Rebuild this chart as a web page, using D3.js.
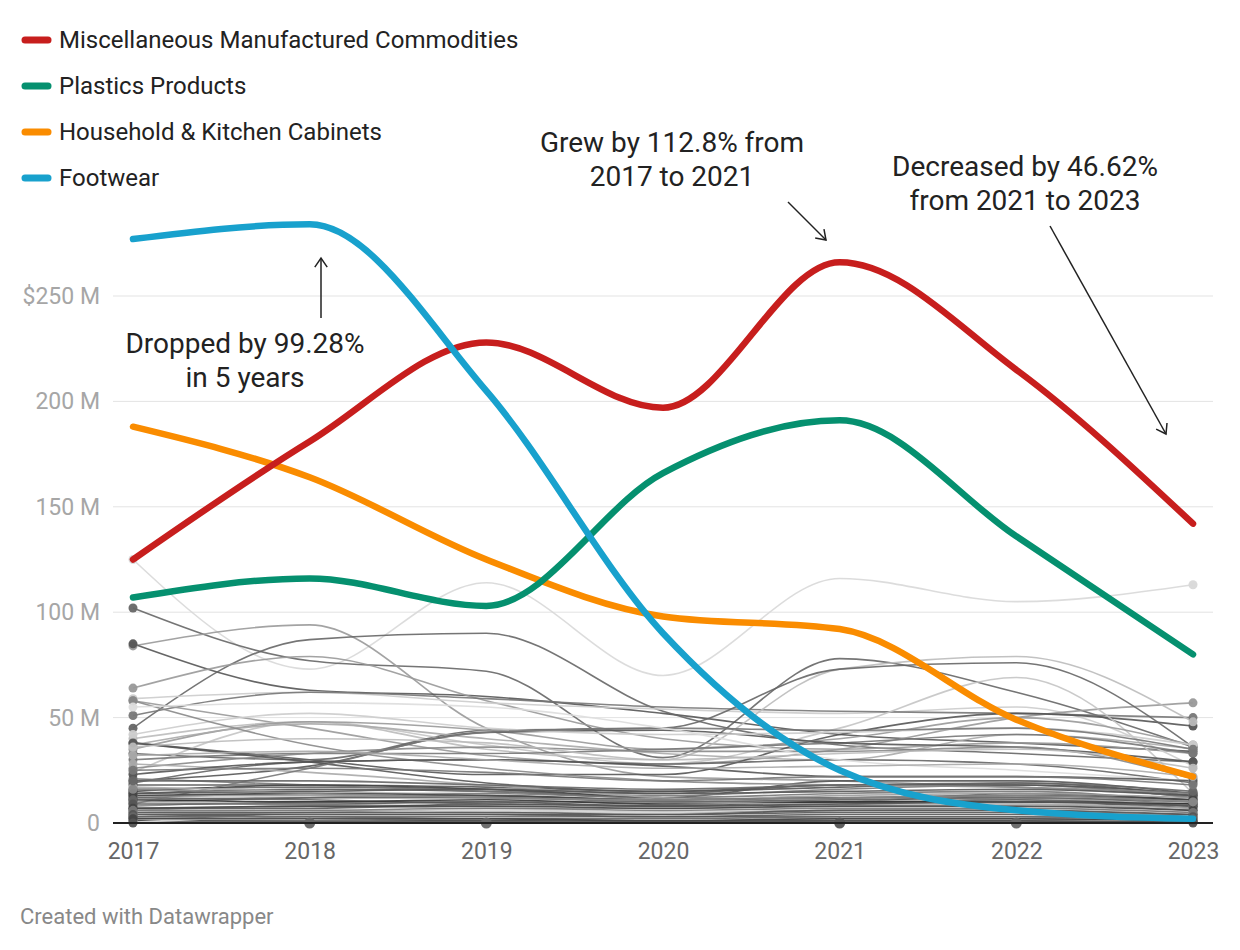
<!DOCTYPE html>
<html>
<head>
<meta charset="utf-8">
<script src="https://cdn.jsdelivr.net/npm/d3@7"></script>
<style>
  html, body { margin: 0; padding: 0; background: #fff; }
  svg { display: block; font-family: Roboto, "Noto Sans", sans-serif; }
</style>
</head>
<body>
<svg id="chart" width="1240" height="950"></svg>
<script>
// ---------- DATA ----------
const years = [2017, 2018, 2019, 2020, 2021, 2022, 2023];

const mainNames = [
  "Miscellaneous Manufactured Commodities",
  "Plastics Products",
  "Household & Kitchen Cabinets",
  "Footwear"
];
const miscValues      = [125, 181, 228, 197, 266, 215, 142];
const plasticsValues  = [107, 116, 103, 166, 191, 136, 80];
const householdValues = [188, 164, 125, 98, 92, 49, 22];
const footwearValues  = [277, 284, 205, 90, 25, 6, 2];

const yTickValues = [0, 50, 100, 150, 200, 250];
const yTickLabels = ["0", "50 M", "100 M", "150 M", "200 M", "$250 M"];

// other commodities (values in $M, 2017..2023; null = no data)
const otherSeries = [
  [125, 73, 114, 70, 116, 105, 113],
  [102, 77, 72, 31, 78, 62, 36],
  [84, 94, 45, 22, 20, 17, 13],
  [85, 63, 60, 52, 42, 38, 34],
  [45, 87, 90, 53, 37, 33, 29],
  [64, 79, 58, 40, 35, 38, 33],
  [59, 62, 57, 54, 52, 55, 27],
  [51, 62, 59, 55, 53, 52, 50],
  [58, 45, 32, 28, 35, 50, 57],
  [38, 30, 23, 23, 42, 52, 46],
  [40, 48, 35, 30, 73, 79, 48],
  [33, 30, 44, 45, 73, 76, 36],
  [24, 48, 37, 28, 45, 69, 14],
  [35, 48, 44, 35, 40, 50, 37],
  [37, 47, 40, 33, 30, 42, 35],
  [30, 33, 33, 35, 38, 42, 33],
  [20, 27, 43, 44, 38, 36, 29],
  [26, 33, 36, 34, 34, 36, 21],
  [42, 52, 45, 42, 43, 45, 37],
  [19, 29, 30, 28, 30, 28, 19],
  [14, 16, 15, 12, 20, 20, 14],
  [16, 17, 16, 14, 18, 18, 12],
  [12, 14, 14, 12, 14, 15, 10],
  [10, 12, 13, 11, 12, 12, 9],
  [8, 10, 10, 10, 11, 11, 8],
  [6, 8, 7, 7, 8, 9, 6],
  [5, 6, 5, 5, 6, 7, 5],
  [3, 4, 4, 4, 5, 5, 4],
  [2, 3, 3, 3, 3, 3, 2],
  [1, 2, 1, 2, 2, 2, 1],
  [18, 18, 17, 15, 17, 19, 13],
  [21, 18, 15, 13, 16, 18, 12],
  [15, 18, 16, 12, 10, 14, 11],
  [28, 24, 18, 12, 10, 12, 8],
  [12, 11, 9, 8, 9, 11, 8],
  [10, 9, 8, 9, 11, 13, 10],
  [7, 7, 9, 8, 10, 10, 7],
  [4, 5, 6, 5, 6, 6, 3],
  [1, 1, 1, 1, 1, 1, 0.5],
  [0.5, 1, 2, 1, 2, 2, 1],
  [0.3, 4, 6, 5, 8, 9, 10],
  [38, 29, 19, 15, 18, 18, 14],
  [9, 26, 43, 45, 44, 45, 35],
  [58, 37, 26, 20, 18, 17, 14],
  [55, 57, 55, 45, 30, 25, 20],
  [23, 29, 30, 27, 22, 22, 20],
  [13, 13, 12, 11, 13, 14, 12],
  [11, 10, 11, 9, 10, 10, 9],
  [17, 15, 13, 10, 9, 9, 7],
  [5, 5, 5, 4, 6, 6, 4],
  [14, 15, 16, 14, 15, 16, 13],
  [13, 14, 13, 11, 12, 13, 11],
  [11, 12, 12, 10, 11, 12, 10],
  [9, 9, 10, 8, 9, 10, 8],
  [7, 8, 8, 7, 8, 8, 6],
  [6, 6, 7, 6, 7, 7, 5],
  [4, 4, 4, 3, 4, 4, 3],
  [3, 3, 2, 2, 3, 3, 2],
  [2, 2, 2, 1, 2, 2, 1],
  [16, 14, 12, 11, 12, 13, 10],
  [20, 20, 18, 16, 18, 19, 15],
  [25, 26, 24, 20, 22, 22, 18],
  [32, 34, 30, 26, 27, 28, 22],
  [36, 40, 38, 30, 33, 35, 26],
  [0, 0.5, 0.5, 0.5, 1, 1, 0],
  [null, 0, null, null, null, null, null],
  [null, null, 0, null, null, null, null],
  [null, null, null, null, 0, null, null],
  [null, null, null, null, null, 0, null]
];

// ---------- STYLE ----------
const mainColors = ["#c71e1d", "#05906f", "#fa8c00", "#18a1cd"];
const otherShades = [
  "#d8d8d8","#666","#999","#555","#666","#999","#ccc","#777","#999","#555",
  "#bbb","#666","#c4c4c4","#999","#aaa","#777","#555","#888","#ccc","#666",
  "#555","#666","#777","#444","#888","#999","#bbb","#555","#666","#ccc",
  "#555","#777","#444","#aaa","#666","#bbb","#555","#999","#444","#777",
  "#ddd","#555","#777","#888","#ddd","#555","#999","#333","#aaa","#555",
  "#555","#444","#666","#555","#444","#777","#555","#666","#444","#888",
  "#666","#777","#aaa","#bbb","#555","#666","#666","#555","#666"
];

// ---------- CHART ----------
const svg = d3.select("#chart");
const x = d3.scaleLinear().domain([2017, 2023]).range([133, 1193]);
const y = d3.scaleLinear().domain([0, 250]).range([823, 296]);

// gridlines
svg.append("g").selectAll("line")
  .data(yTickValues.filter(v => v > 0))
  .join("line")
  .attr("x1", 113).attr("x2", 1213)
  .attr("y1", d => y(d)).attr("y2", d => y(d))
  .attr("stroke", "#e3e3e3").attr("stroke-width", 1);

// y labels
svg.append("g").selectAll("text")
  .data(yTickValues)
  .join("text")
  .attr("x", 100).attr("y", d => y(d))
  .attr("dy", "0.35em")
  .attr("text-anchor", "end")
  .attr("font-size", 23)
  .attr("fill", "#a6a6a6")
  .text((d, i) => yTickLabels[i]);

// x axis labels
const xAxis = d3.axisBottom(x).tickValues(years).tickFormat(d3.format("d")).tickSize(0).tickPadding(0);
const xg = svg.append("g").attr("transform", "translate(0,851)").call(xAxis);
xg.select(".domain").remove();
xg.selectAll("text").attr("font-size", 23).attr("fill", "#666").attr("dy", "0.35em")
  .attr("font-family", "Roboto, sans-serif");

const line = d3.line()
  .defined(d => d.v !== null)
  .x(d => x(d.year)).y(d => y(d.v))
  .curve(d3.curveMonotoneX);

// other series
const others = otherSeries.map((vals, i) => ({
  pts: vals.map((v, j) => ({ year: years[j], v })),
  color: otherShades[i % otherShades.length]
}));
const og = svg.append("g");
og.selectAll("path")
  .data(others)
  .join("path")
  .attr("d", d => line(d.pts))
  .attr("fill", "none")
  .attr("stroke", d => d.color)
  .attr("stroke-width", 1.6)
  .attr("opacity", 0.9);

// end dots
const dots = [];
others.forEach(s => {
  const def = s.pts.filter(p => p.v !== null);
  const single = def.length === 1;
  dots.push({ p: def[0], color: s.color, single });
  if (!single) dots.push({ p: def[def.length - 1], color: s.color, single });
});
og.selectAll("circle")
  .data(dots)
  .join("circle")
  .attr("cx", d => x(d.p.year))
  .attr("cy", d => y(d.p.v))
  .attr("r", d => d.single ? 5.5 : 4.5)
  .attr("fill", d => d.color)
  .attr("opacity", 0.95);

// zero axis line
svg.append("line")
  .attr("x1", 113).attr("x2", 1213)
  .attr("y1", y(0)).attr("y2", y(0))
  .attr("stroke", "#222").attr("stroke-width", 2);

// main series
const mainValues = [miscValues, plasticsValues, householdValues, footwearValues];
const mains = mainValues.map((vals, i) => ({
  name: mainNames[i],
  color: mainColors[i],
  pts: vals.map((v, j) => ({ year: years[j], v }))
}));
const drawOrder = [2, 1, 0, 3];
svg.append("g").selectAll("path")
  .data(drawOrder.map(i => mains[i]))
  .join("path")
  .attr("d", d => line(d.pts))
  .attr("fill", "none")
  .attr("stroke", d => d.color)
  .attr("stroke-width", 6.5)
  .attr("stroke-linecap", "round")
  .attr("stroke-linejoin", "round");

// legend
const lg = svg.append("g").selectAll("g")
  .data(mains)
  .join("g")
  .attr("transform", (d, i) => `translate(0,${40 + i * 46})`);
lg.append("line")
  .attr("x1", 25).attr("x2", 48).attr("y1", 0).attr("y2", 0)
  .attr("stroke", d => d.color).attr("stroke-width", 7).attr("stroke-linecap", "round");
lg.append("text")
  .attr("x", 59).attr("y", 0).attr("dy", "0.35em")
  .attr("font-size", 24).attr("fill", "#222")
  .text(d => d.name);

// annotations
const annotations = [
  { lines: ["Dropped by 99.28%", "in 5 years"], cx: 245, cy: 343, arrow: [[321, 318], [321, 258]] },
  { lines: ["Grew by 112.8% from", "2017 to 2021"], cx: 672, cy: 142, arrow: [[788, 202], [826, 240]] },
  { lines: ["Decreased by 46.62%", "from 2021 to 2023"], cx: 1025, cy: 166, arrow: [[1050, 226], [1166, 434]] }
];
const ag = svg.append("g");
annotations.forEach(a => {
  a.lines.forEach((t, k) => {
    ag.append("text")
      .attr("x", a.cx).attr("y", a.cy + k * 34).attr("dy", "0.35em")
      .attr("text-anchor", "middle")
      .attr("font-size", 28).attr("fill", "#222")
      .text(t);
  });
  const [[x1, y1], [x2, y2]] = a.arrow;
  ag.append("line").attr("x1", x1).attr("y1", y1).attr("x2", x2).attr("y2", y2)
    .attr("stroke", "#222").attr("stroke-width", 1.5);
  const ang = Math.atan2(y2 - y1, x2 - x1);
  const L = 11, spread = 0.6;
  const p1 = [x2 - L * Math.cos(ang - spread), y2 - L * Math.sin(ang - spread)];
  const p2 = [x2 - L * Math.cos(ang + spread), y2 - L * Math.sin(ang + spread)];
  ag.append("path")
    .attr("d", `M${p1[0]},${p1[1]}L${x2},${y2}L${p2[0]},${p2[1]}`)
    .attr("fill", "none").attr("stroke", "#222").attr("stroke-width", 1.5);
});

// footer
svg.append("text")
  .attr("x", 20).attr("y", 916).attr("dy", "0.35em")
  .attr("font-size", 22).attr("fill", "#888")
  .text("Created with Datawrapper");
</script>
</body>
</html>
